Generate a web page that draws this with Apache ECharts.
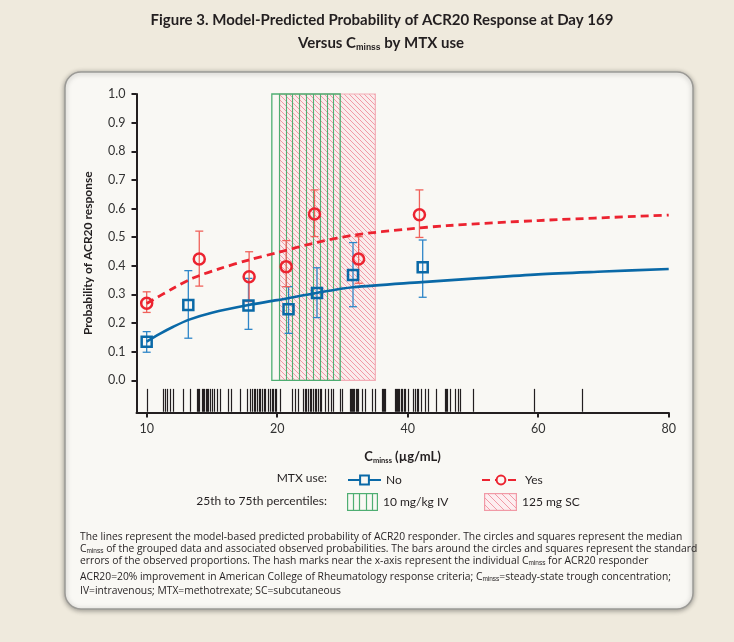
<!DOCTYPE html>
<html>
<head>
<meta charset="utf-8">
<script src="https://cdn.jsdelivr.net/npm/echarts@6/dist/echarts.min.js"></script>
<style>
html, body { margin: 0; padding: 0; background: #efeadd; }
#chart { width: 734px; height: 642px; }
</style>
</head>
<body>
<div id="chart"></div>
<script>
// x axis is drawn in tick-position units: 0..4 carry the labels below
var xTickPos = [0, 1, 2, 3, 4];
var xTickLabels = ['10', '20', '40', '60', '80'];
var yTicks = [0, 0.1, 0.2, 0.3, 0.4, 0.5, 0.6, 0.7, 0.8, 0.9, 1.0];

// model-predicted curves
var noCurveX = [0, 0.1, 0.2, 0.32, 0.5, 0.78, 1.0, 1.31, 1.58, 2.11, 2.5, 3.0, 3.5, 4.0];
var noCurveY = [0.135, 0.162, 0.186, 0.211, 0.236, 0.263, 0.280, 0.306, 0.325, 0.343, 0.355, 0.370, 0.380, 0.389];
var yesCurveX = [0, 0.19, 0.36, 0.56, 0.78, 1.0, 1.3, 1.6, 2.0, 2.3, 3.0, 4.0];
var yesCurveY = [0.268, 0.318, 0.358, 0.390, 0.420, 0.446, 0.481, 0.508, 0.528, 0.540, 0.558, 0.577];

// observed proportions (median Cminss of groups) with standard errors
var noObsX = [0, 0.319, 0.780, 1.087, 1.305, 1.581, 2.115];
var noObsY = [0.135, 0.263, 0.261, 0.248, 0.305, 0.368, 0.395];
var noObsLo = [0.098, 0.147, 0.178, 0.164, 0.219, 0.257, 0.290];
var noObsHi = [0.170, 0.383, 0.356, 0.327, 0.393, 0.481, 0.490];

var yesObsX = [0, 0.403, 0.785, 1.069, 1.286, 1.624, 2.090];
var yesObsY = [0.269, 0.424, 0.362, 0.397, 0.581, 0.424, 0.578];
var yesObsLo = [0.237, 0.329, 0.275, 0.327, 0.502, 0.339, 0.499];
var yesObsHi = [0.309, 0.521, 0.449, 0.488, 0.665, 0.502, 0.665];

// 25th to 75th percentile ranges
var ivBand = [0.959, 1.483];
var scBand = [1.018, 1.752];

// individual Cminss of ACR20 responders (hash marks)
var rugX = [0.000, 0.125, 0.140, 0.156, 0.179, 0.202, 0.275, 0.332, 0.386, 0.394, 0.402, 0.421,
  0.430, 0.440, 0.452, 0.463, 0.472, 0.482, 0.501, 0.517, 0.540, 0.563, 0.624, 0.647, 0.716,
  0.770, 0.793, 0.808, 0.820, 0.831, 0.847, 0.858, 0.870, 0.885, 0.896, 0.908, 0.931, 0.946,
  0.958, 0.969, 0.980, 0.992, 1.023, 1.113, 1.138, 1.161, 1.200, 1.211, 1.223, 1.238, 1.250,
  1.261, 1.276, 1.288, 1.299, 1.315, 1.326, 1.338, 1.368, 1.391, 1.414, 1.430, 1.484, 1.499,
  1.560, 1.568, 1.576, 1.584, 1.591, 1.607, 1.614, 1.622, 1.652, 1.675, 1.729, 1.752, 1.806,
  1.814, 1.822, 1.829, 1.906, 1.914, 1.921, 1.929, 1.936, 1.948, 1.959, 1.970, 1.982, 2.005,
  2.044, 2.059, 2.070, 2.082, 2.105, 2.136, 2.159, 2.220, 2.289, 2.297, 2.305, 2.328, 2.366,
  2.382, 2.404, 2.502, 2.965, 3.333];

var BLUE = '#0a69a7', BLUE_ERR = '#2f86c8';
var RED = '#ec2330', RED_ERR = '#f0625b';
var GREEN = '#4fae72', PINK = '#f19aa6';
var INK = '#231f20';
var bandTop = 1, bandBottom = 0;
var rugTop = -0.03, rugBottom = -0.11;

function pairs(xs, ys) { return xs.map(function (x, i) { return [x, ys[i]]; }); }
function triples(xs, lo, hi) { return xs.map(function (x, i) { return [x, lo[i], hi[i]]; }); }

function makeCanvas(w, h, draw) {
  var c = document.createElement('canvas');
  c.width = w; c.height = h;
  draw(c.getContext('2d'), w, h);
  return c;
}
var pinkTile = makeCanvas(5, 5, function (ctx, w, h) {
  ctx.fillStyle = 'rgba(252,226,230,0.55)'; ctx.fillRect(0, 0, w, h);
  ctx.strokeStyle = PINK; ctx.lineWidth = 1;
  ctx.beginPath();
  for (var k = -1; k <= 1; k++) { ctx.moveTo(k * w, 0); ctx.lineTo(k * w + w, h); }
  ctx.stroke();
});
var ivIcon = makeCanvas(31, 18, function (ctx, w, h) {
  ctx.strokeStyle = GREEN; ctx.lineWidth = 1.2;
  ctx.strokeRect(0.6, 0.6, w - 1.2, h - 1.2);
  ctx.beginPath();
  for (var i = 1; i < 5; i++) { var x = Math.round(i * w / 5) + 0.5; ctx.moveTo(x, 0); ctx.lineTo(x, h); }
  ctx.stroke();
}).toDataURL();
var scIcon = makeCanvas(33, 18, function (ctx, w, h) {
  ctx.fillStyle = '#fdeef0'; ctx.fillRect(0, 0, w, h);
  ctx.strokeStyle = PINK; ctx.lineWidth = 1;
  ctx.beginPath();
  for (var x = -h; x < w; x += 7) { ctx.moveTo(x, 0); ctx.lineTo(x + h, h); }
  ctx.stroke();
  ctx.lineWidth = 1.2;
  ctx.strokeRect(0.6, 0.6, w - 1.2, h - 1.2);
}).toDataURL();

function bandRender(kind) {
  return function (params, api) {
    var p0 = api.coord([api.value(0), bandTop]);
    var p1 = api.coord([api.value(1), bandBottom]);
    var x = p0[0], y = p0[1], w = p1[0] - p0[0], h = p1[1] - p0[1];
    if (kind === 'sc') {
      return { type: 'rect', shape: { x: x, y: y, width: w, height: h },
        style: { fill: { image: pinkTile, repeat: 'repeat' }, stroke: '#f3adb6', lineWidth: 1.2 } };
    }
    var kids = [{ type: 'rect', shape: { x: x, y: y, width: w, height: h },
      style: { fill: null, stroke: GREEN, lineWidth: 1.3 } }];
    for (var i = 1; i < 10; i++) {
      var lx = Math.round(x + i * w / 10) + 0.5;
      kids.push({ type: 'line', shape: { x1: lx, y1: y, x2: lx, y2: y + h },
        style: { stroke: GREEN, lineWidth: 1.1 } });
    }
    return { type: 'group', children: kids };
  };
}

function rugRender(params, api) {
  var a = api.coord([api.value(0), rugTop]);
  var b = api.coord([api.value(0), rugBottom]);
  var x = Math.round(a[0]) + 0.5;
  return { type: 'line', shape: { x1: x, y1: a[1], x2: x, y2: b[1] },
    style: { stroke: INK, lineWidth: 1.2 } };
}

function errRender(color) {
  return function (params, api) {
    var top = api.coord([api.value(0), api.value(2)]);
    var bot = api.coord([api.value(0), api.value(1)]);
    var c = 4;
    var st = { stroke: color, lineWidth: 1.3 };
    return { type: 'group', children: [
      { type: 'line', shape: { x1: top[0], y1: top[1], x2: bot[0], y2: bot[1] }, style: st },
      { type: 'line', shape: { x1: top[0] - c, y1: top[1], x2: top[0] + c, y2: top[1] }, style: st },
      { type: 'line', shape: { x1: bot[0] - c, y1: bot[1], x2: bot[0] + c, y2: bot[1] }, style: st }
    ] };
  };
}

var subRich = function (size, bold) {
  return { fontSize: size, fontWeight: bold ? 'bold' : 'normal', lineHeight: 4,
    verticalAlign: 'bottom', fill: INK, color: INK };
};
var FOOT = { fontFamily: 'Open Sans', fontSize: 10.3, fill: INK, lineHeight: 12, verticalAlign: 'middle' };
function foot(y, text) {
  return { type: 'text', x: 80, y: y, style: Object.assign({ text: text, rich: { s: subRich(6.5, false) } }, FOOT) };
}

var chart = echarts.init(document.getElementById('chart'));
var option = {
  backgroundColor: '#efeadd',
  animation: false,
  textStyle: { fontFamily: 'Lato' },
  grid: { left: 136.5, right: 65.3, top: 94, bottom: 229.5, outerBoundsMode: 'none' },
  xAxis: {
    type: 'value', min: -0.078, max: 4,
    axisLine: { onZero: false, lineStyle: { color: INK, width: 2 } },
    axisTick: { customValues: xTickPos, length: 5, lineStyle: { color: INK, width: 2 } },
    axisLabel: { customValues: xTickPos, margin: 10, fontSize: 12.5, color: '#333',
      formatter: function (v) { return xTickLabels[xTickPos.indexOf(Math.round(v))]; } },
    splitLine: { show: false },
    name: 'C{s|minss} (µg/mL)', nameLocation: 'middle', nameGap: 36,
    nameTextStyle: { fontSize: 13, fontWeight: 'bold', color: INK, lineHeight: 16,
      rich: { s: { fontSize: 7.5, fontWeight: 'bold', color: INK, lineHeight: 4, verticalAlign: 'bottom' } } }
  },
  yAxis: {
    type: 'value', min: -0.1125, max: 1,
    axisLine: { show: true, onZero: false, lineStyle: { color: INK, width: 2 } },
    axisTick: { show: true, customValues: yTicks, length: 5, lineStyle: { color: INK, width: 2 } },
    axisLabel: { customValues: yTicks, margin: 11, fontSize: 12.5, color: '#333',
      formatter: function (v) { return v.toFixed(1); } },
    splitLine: { show: false },
    name: 'Probability of ACR20 response', nameLocation: 'middle', nameGap: 42,
    nameTextStyle: { fontSize: 12, fontWeight: 'bold', color: INK }
  },
  legend: [
    { data: ['No'], left: 342, top: 469, itemWidth: 33, itemHeight: 11, selectedMode: false,
      textStyle: { fontSize: 12, color: INK } },
    { data: ['Yes'], left: 476, top: 469, itemWidth: 38, itemHeight: 11, selectedMode: false,
      textStyle: { fontSize: 12, color: INK } },
    { data: [{ name: '10 mg/kg IV', icon: 'image://' + ivIcon }], left: 342, top: 488,
      itemWidth: 31, itemHeight: 18, selectedMode: false,
      textStyle: { fontSize: 12, color: INK } },
    { data: [{ name: '125 mg SC', icon: 'image://' + scIcon }], left: 479, top: 488,
      itemWidth: 33, itemHeight: 18, selectedMode: false,
      textStyle: { fontSize: 12, color: INK } }
  ],
  graphic: [
    { type: 'rect', z: -10, shape: { x: 65, y: 72, width: 628, height: 537, r: 16 },
      style: { fill: '#f9f8f4', stroke: '#9b9a96', lineWidth: 1.5,
        shadowBlur: 5, shadowColor: 'rgba(0,0,0,0.35)', shadowOffsetY: 1 } },
    { type: 'text', x: 382, y: 20, style: { text: 'Figure 3. Model-Predicted Probability of ACR20 Response at Day 169',
      fontFamily: 'Lato', fontSize: 15, fontWeight: 'bold', fill: INK, align: 'center', verticalAlign: 'middle' } },
    { type: 'text', x: 381, y: 43, style: { text: 'Versus C{s|minss} by MTX use',
      fontFamily: 'Lato', fontSize: 15, fontWeight: 'bold', fill: INK, lineHeight: 18,
      align: 'center', verticalAlign: 'middle', rich: { s: subRich(8.5, true) } } },
    { type: 'text', x: 327, y: 478, style: { text: 'MTX use:', fontFamily: 'Lato', fontSize: 12,
      fill: INK, align: 'right', verticalAlign: 'middle' } },
    { type: 'text', x: 327, y: 501, style: { text: '25th to 75th percentiles:', fontFamily: 'Lato', fontSize: 12,
      fill: INK, align: 'right', verticalAlign: 'middle' } },
    foot(537, 'The lines represent the model-based predicted probability of ACR20 responder. The circles and squares represent the median'),
    foot(549, 'C{s|minss} of the grouped data and associated observed probabilities. The bars around the circles and squares represent the standard'),
    foot(561, 'errors of the observed proportions. The hash marks near the x-axis represent the individual C{s|minss} for ACR20 responder'),
    foot(577, 'ACR20=20% improvement in American College of Rheumatology response criteria; C{s|minss}=steady-state trough concentration;'),
    foot(591, 'IV=intravenous; MTX=methotrexate; SC=subcutaneous')
  ],
  series: [
    { name: 'No', type: 'line', data: pairs(noCurveX, noCurveY), smooth: 0.3, symbol: 'rect',
      symbolSize: 9, showSymbol: false, silent: true, z: 4,
      lineStyle: { color: BLUE, width: 2.6 },
      itemStyle: { color: '#f9f8f4', borderColor: BLUE, borderWidth: 2.2 } },
    { name: 'Yes', type: 'line', data: pairs(yesCurveX, yesCurveY), smooth: 0.3, symbol: 'circle',
      symbolSize: 10, showSymbol: false, silent: true, z: 4,
      lineStyle: { color: RED, width: 2.8, type: [8, 5] },
      itemStyle: { color: '#f9f8f4', borderColor: RED, borderWidth: 2.4 } },
    { name: '125 mg SC', type: 'custom', data: [scBand], renderItem: bandRender('sc'),
      encode: { x: [0, 1] }, silent: true, z: 1 },
    { name: '10 mg/kg IV', type: 'custom', data: [ivBand], renderItem: bandRender('iv'),
      encode: { x: [0, 1] }, silent: true, z: 1 },
    { type: 'custom', data: rugX.map(function (v) { return [v]; }), renderItem: rugRender,
      encode: { x: 0 }, silent: true, z: 2 },
    { type: 'custom', data: triples(noObsX, noObsLo, noObsHi), renderItem: errRender(BLUE_ERR),
      encode: { x: 0, y: [1, 2] }, silent: true, z: 3 },
    { type: 'custom', data: triples(yesObsX, yesObsLo, yesObsHi), renderItem: errRender(RED_ERR),
      encode: { x: 0, y: [1, 2] }, silent: true, z: 3 },
    { type: 'scatter', data: pairs(noObsX, noObsY), symbol: 'rect', symbolSize: 10, silent: true, z: 5,
      itemStyle: { color: 'rgba(255,255,255,0)', borderColor: BLUE, borderWidth: 2.5, opacity: 1 } },
    { type: 'scatter', data: pairs(yesObsX, yesObsY), symbol: 'circle', symbolSize: 11, silent: true, z: 5,
      itemStyle: { color: 'rgba(255,255,255,0)', borderColor: RED, borderWidth: 2.5, opacity: 1 } }
  ]
};
chart.setOption(option);
</script>
</body>
</html>
